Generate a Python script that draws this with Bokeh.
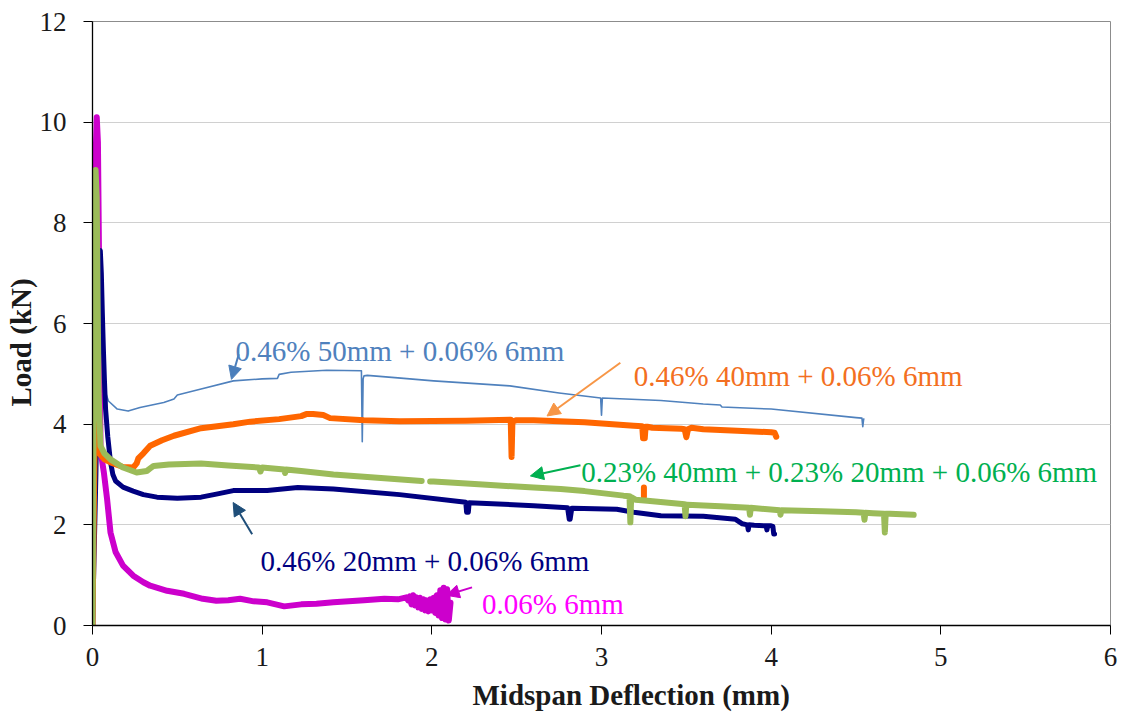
import numpy as np
from bokeh.plotting import figure
from bokeh.models import Label, Arrow, NormalHead, FixedTicker, Title
from bokeh.embed import file_html
from bokeh.resources import INLINE

nan = np.nan

# Load (kN) against midspan deflection (mm) for each fibre mix
# 0.46% 50mm + 0.06% 6mm
blue_x = [0, 0.028, 0.045, 0.062, 0.08, 0.094, 0.146, 0.21, 0.28, 0.35, 0.42, 0.48, 0.5,
          0.64, 0.83, 1.0, 1.09, 1.1, 1.17, 1.38, 1.585, 1.59, 1.595, 1.6, 1.62, 1.8, 2.01,
          2.46, 2.75, 2.995, 3.0, 3.005, 3.35, 3.6, 3.7, 3.71, 4.0, 4.5, 4.535, 4.54, 4.545, 4.55]
blue_y = [0, 3.7, 5.2, 4.9, 4.6, 4.46, 4.3, 4.26, 4.33, 4.38, 4.43, 4.5, 4.58,
          4.7, 4.86, 4.9, 4.91, 4.99, 5.03, 5.07, 5.06, 3.65, 4.9, 4.96, 4.97, 4.92, 4.86,
          4.76, 4.62, 4.52, 4.18, 4.52, 4.47, 4.4, 4.38, 4.34, 4.3, 4.13, 4.12, 3.95, 4.1, 4.1]

# 0.46% 40mm + 0.06% 6mm
orange_x = [0, 0.012, 0.02, 0.03, 0.045, 0.07, 0.106, 0.18, 0.24, 0.26, 0.27, 0.3, 0.34, 0.41,
            0.48, 0.64, 0.83, 0.93, 1.1, 1.23, 1.26, 1.3, 1.36, 1.4, 1.6, 1.81, 2.2, 2.465,
            2.47, 2.475, 2.5, 2.6, 2.9, 3.19, 3.24, 3.245, 3.255, 3.26, 3.27, 3.3, 3.47, 3.49,
            3.5, 3.51, 3.53, 3.6, 3.8, 4.0, 4.02, 4.03, nan, 3.25, 3.25]
orange_y = [0, 3.5, 6.0, 4.0, 3.4, 3.3, 3.24, 3.15, 3.14, 3.22, 3.32, 3.42, 3.57, 3.68,
            3.77, 3.92, 4.0, 4.05, 4.1, 4.16, 4.2, 4.2, 4.18, 4.12, 4.08, 4.06, 4.07, 4.09,
            3.35, 4.05, 4.08, 4.08, 4.04, 3.97, 3.96, 3.72, 3.72, 3.95, 3.95, 3.93, 3.91, 3.9,
            3.74, 3.9, 3.93, 3.9, 3.87, 3.84, 3.83, 3.75, nan, 2.74, 2.56]

# 0.46% 20mm + 0.06% 6mm
navy_x = [0, 0.02, 0.035, 0.046, 0.052, 0.058, 0.064, 0.07, 0.077, 0.09, 0.106, 0.12, 0.136,
          0.18, 0.24, 0.3, 0.38, 0.5, 0.64, 0.73, 0.83, 1.03, 1.21, 1.42, 1.81, 2.2, 2.205,
          2.215, 2.22, 2.6, 2.8, 2.81, 2.815, 2.825, 2.83, 3.09, 3.19, 3.35, 3.6, 3.79, 3.83,
          3.86, 3.865, 3.87, 3.9, 3.97, 3.975, 3.98, 4.0, 4.01, 4.015, 4.02]
navy_y = [0, 3.0, 6.3, 7.45, 7.0, 6.2, 5.5, 4.9, 4.3, 3.75, 3.25, 3.0, 2.87,
          2.75, 2.67, 2.6, 2.55, 2.53, 2.55, 2.61, 2.68, 2.68, 2.74, 2.71, 2.6, 2.45, 2.25,
          2.25, 2.44, 2.38, 2.34, 2.11, 2.11, 2.33, 2.33, 2.31, 2.25, 2.18, 2.17, 2.11, 2.02,
          2.0, 1.9, 2.0, 1.99, 1.98, 1.9, 1.98, 1.98, 1.97, 1.82, 1.82]

# 0.23% 40mm + 0.23% 20mm + 0.06% 6mm
green_x = [0, 0.006, 0.018, 0.025, 0.03, 0.036, 0.047, 0.07, 0.106, 0.18, 0.26, 0.32, 0.34,
           0.36, 0.45, 0.64, 0.8, 0.98, 0.99, 1.0, 1.13, 1.135, 1.14, 1.23, 1.42, 1.7, 1.94,
           nan, 1.99, 2.01, 2.3, 2.6, 2.76, 2.9, 3.13, 3.165, 3.17, 3.175, 3.2, 3.27, 3.49,
           3.495, 3.5, 3.505, 3.7, 3.87, 3.875, 3.88, 3.91, 4.05, 4.055, 4.06, 4.3, 4.5, 4.545,
           4.55, 4.555, 4.6, 4.665, 4.67, 4.675, 4.7, 4.84]
green_y = [0, 4.0, 9.05, 8.5, 6.5, 4.6, 3.57, 3.42, 3.3, 3.14, 3.04, 3.07, 3.12,
           3.17, 3.2, 3.22, 3.18, 3.14, 3.06, 3.14, 3.1, 3.03, 3.1, 3.07, 3.0, 2.93, 2.87,
           nan, 2.86, 2.86, 2.8, 2.74, 2.71, 2.67, 2.58, 2.57, 2.05, 2.55, 2.5, 2.48, 2.41,
           2.17, 2.4, 2.4, 2.37, 2.34, 2.2, 2.34, 2.33, 2.29, 2.2, 2.29, 2.27, 2.25, 2.24,
           2.1, 2.24, 2.23, 2.22, 1.85, 2.22, 2.22, 2.2]

# 0.06% 6mm
magenta_x = [0, 0.01, 0.02, 0.025, 0.032, 0.038, 0.043, 0.047, 0.055, 0.067, 0.086, 0.106,
             0.136, 0.18, 0.24, 0.3, 0.34, 0.44, 0.54, 0.65, 0.73, 0.8, 0.87, 0.95, 1.03,
             1.13, 1.23, 1.32, 1.42, 1.6, 1.72, 1.8, 1.85, 1.86, 1.87, 1.88, 1.89, 1.9, 1.91,
             1.92, 1.93, 1.94, 1.95, 1.96, 1.97, 1.98, 1.99, 2.0, 2.01, 2.02, 2.03, 2.04, 2.05,
             2.06, 2.07, 2.08, 2.09, 2.1, 2.11]
magenta_y = [0, 5.0, 9.5, 10.1, 9.6, 7.5, 5.5, 3.57, 3.3, 3.04, 2.51, 1.85,
             1.46, 1.19, 0.99, 0.86, 0.79, 0.69, 0.63, 0.53, 0.49, 0.5, 0.53, 0.48, 0.46,
             0.38, 0.42, 0.43, 0.46, 0.5, 0.53, 0.52, 0.56, 0.5, 0.58, 0.42, 0.6, 0.4, 0.56,
             0.36, 0.55, 0.33, 0.52, 0.3, 0.5, 0.28, 0.52, 0.3, 0.55, 0.25, 0.6, 0.2, 0.7,
             0.15, 0.75, 0.12, 0.72, 0.1, 0.45]

x_ticks = [0, 1, 2, 3, 4, 5, 6]
y_ticks = [0, 2, 4, 6, 8, 10, 12]

series_labels = ["0.46% 50mm + 0.06% 6mm", "0.46% 40mm + 0.06% 6mm",
                 "0.23% 40mm + 0.23% 20mm + 0.06% 6mm", "0.46% 20mm + 0.06% 6mm",
                 "0.06% 6mm"]

FONT = "Liberation Serif"

p = figure(width=1128, height=719, x_range=(0, 6), y_range=(0, 12),
           output_backend="svg", toolbar_location=None,
           min_border_left=92, min_border_right=18, min_border_top=21, min_border_bottom=93)
p.background_fill_color = "white"
p.border_fill_color = "white"
p.outline_line_color = "#8C8C8C"
p.outline_line_width = 1

p.xgrid.visible = False
p.ygrid.grid_line_color = "#D0D0D0"
p.ygrid.grid_line_width = 1

for ax, ticks in ((p.xaxis, x_ticks), (p.yaxis, y_ticks)):
    ax.ticker = FixedTicker(ticks=ticks)
    ax.minor_tick_line_color = None
    ax.major_tick_in = 0
    ax.major_tick_out = 9
    ax.major_tick_line_color = "black"
    ax.axis_line_color = "black"
    ax.axis_line_width = 1.3
    ax.major_label_text_font = FONT
    ax.major_label_text_font_size = "27px"
    ax.major_label_text_color = "#1A1A1A"
p.xaxis.major_label_standoff = 13
p.yaxis.major_label_standoff = 17

# curves, back to front
p.line(blue_x, blue_y, line_color="#4F81BD", line_width=1.6, line_join="round")
p.line(np.array(magenta_x), np.array(magenta_y), line_color="#CC00CC", line_width=6,
       line_join="round", line_cap="round")
p.line(np.array(navy_x), np.array(navy_y), line_color="#000080", line_width=5,
       line_join="round", line_cap="round")
p.line(np.array(orange_x), np.array(orange_y), line_color="#FF6600", line_width=6,
       line_join="round", line_cap="round")
p.line(np.array(green_x), np.array(green_y), line_color="#9BBB59", line_width=6,
       line_join="round", line_cap="round")

# series call-outs: (x, baseline y, text colour, arrow tail, arrow tip, arrow colour)
callouts = [
    (0.843, 5.45, "#4F81BD", (0.862, 5.39), (0.819, 4.89), "#4A7EBB"),
    (3.19, 4.955, "#F36F21", (3.111, 5.22), (2.679, 4.163), "#F79646"),
    (2.88, 3.04, "#00B050", (2.876, 3.185), (2.581, 2.972), "#00B050"),
    (0.99, 1.286, "#000080", (0.941, 1.815), (0.829, 2.444), "#1F4E79"),
    (2.296, 0.427, "#FF00FF", (2.237, 0.758), (2.085, 0.6), "#CC00CC"),
]
for text, (lx, ly, tcol, tail, tip, acol) in zip(series_labels, callouts):
    p.add_layout(Arrow(end=NormalHead(size=13, fill_color=acol, line_color=acol),
                       x_start=tail[0], y_start=tail[1], x_end=tip[0], y_end=tip[1],
                       line_color=acol, line_width=2))
    p.add_layout(Label(x=lx, y=ly, text=text, text_color=tcol, text_font=FONT,
                       text_font_size="29px", text_align="left",
                       text_baseline="alphabetic"))

# axis titles
p.add_layout(Title(text="Midspan Deflection (mm)", align="left", offset=380, standoff=17,
                   text_font=FONT, text_font_size="29px", text_font_style="bold",
                   text_color="#1A1A1A"), "below")
p.add_layout(Title(text="Load (kN)", align="left", offset=219, standoff=0,
                   text_font=FONT, text_font_size="29px", text_font_style="bold",
                   text_color="#1A1A1A"), "left")

open("out.html", "w").write(file_html(p, INLINE))
